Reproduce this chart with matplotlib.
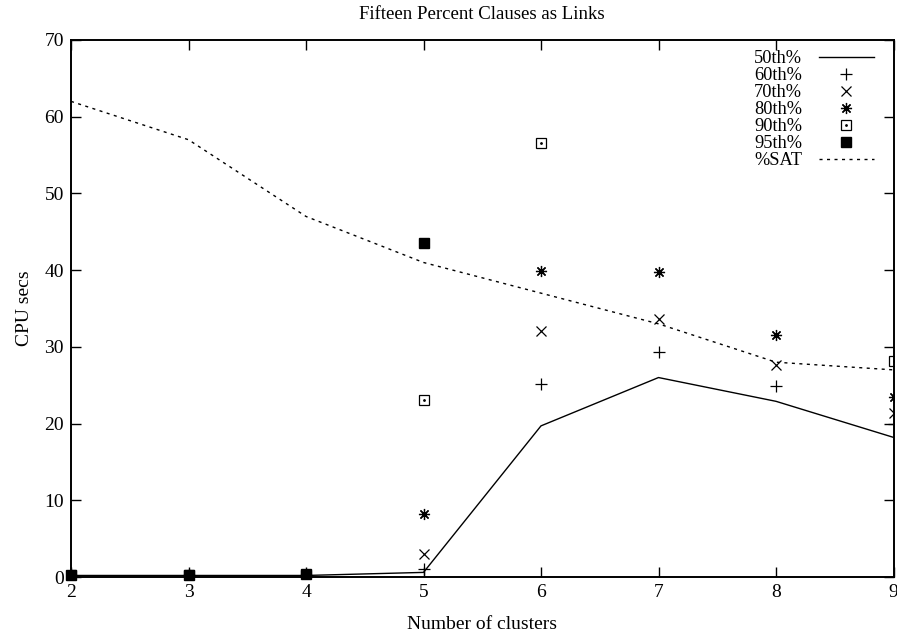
import numpy as np
import matplotlib
matplotlib.use("Agg")
import matplotlib.pyplot as plt

clusters = [2, 3, 4, 5, 6, 7, 8, 9]
p50 = [0.2, 0.2, 0.2, 0.6, 19.7, 26.0, 22.9, 18.2]
p60 = [0.2, 0.2, 0.2, 1.1, 25.2, 29.3, 24.9, 20.0]
p70 = [0.2, 0.2, 0.2, 3.0, 32.1, 33.6, 27.6, 21.4]
p80 = [0.3, 0.2, 0.3, 8.2, 39.9, 39.7, 31.6, 23.5]
p90 = [0.3, 0.2, 0.3, 23.1, 56.6, np.nan, np.nan, 28.2]
p95 = [0.3, 0.3, 0.4, 43.6, np.nan, np.nan, np.nan, np.nan]
pct_sat = [62, 57, 47, 41, 37, 33, 28, 27]

title = "Fifteen Percent Clauses as Links"
xlabel = "Number of clusters"
ylabel = "CPU secs"

plt.rcParams['font.family'] = ['Liberation Serif', 'DejaVu Serif']

fig = plt.figure(figsize=(8.97, 6.34), dpi=100)
ax = fig.add_axes([71/897, 1-577/634, (893.5-71)/897, (577-40)/634])

ax.plot(clusters, p50, color='black', lw=1.0, label='50th%')
ax.plot(clusters, p60, ls='none', marker='+', ms=8, mew=0.9, color='black', label='60th%')
ax.plot(clusters, p70, ls='none', marker='x', ms=7, mew=0.9, color='black', label='70th%')
ax.plot(clusters, p80, ls='none', marker=(8, 2, 0), ms=8, mew=0.9, color='black', label='80th%')
h90, = ax.plot(clusters, p90, ls='none', marker='s', ms=7, mew=0.9, mfc='none', mec='black')
hd, = ax.plot(clusters, p90, ls='none', marker='.', ms=2, color='black')
ax.plot(clusters, p95, ls='none', marker='s', ms=7.5, color='black', label='95th%', clip_on=False, zorder=5)
ax.plot(clusters, pct_sat, color='black', lw=1.0, ls=(0, (2.2, 3.2)), label='%SAT')

ax.set_xlim(2, 9)
ax.set_ylim(0, 70)
ax.set_xticks(clusters)
ax.set_yticks(np.arange(0, 71, 10))
ax.tick_params(direction='in', top=True, right=True, length=7, width=1, labelsize=14, pad=5, colors='black')
for s in ax.spines.values():
    s.set_linewidth(1.4)

ax.set_title(title, fontsize=13.5, pad=15)
ax.set_xlabel(xlabel, fontsize=14, labelpad=11)
ax.set_ylabel(ylabel, fontsize=14, labelpad=8)

handles, labels = ax.get_legend_handles_labels()
handles.insert(4, (h90, hd))
labels.insert(4, '90th%')
leg = ax.legend(handles, labels, loc='upper right', frameon=False, markerfirst=False,
                fontsize=13.2, handlelength=3.0, labelspacing=0.0, borderaxespad=0.15,
                handletextpad=0.9, bbox_to_anchor=(0.988, 1.0))

fig.savefig('out.png', dpi=100)
